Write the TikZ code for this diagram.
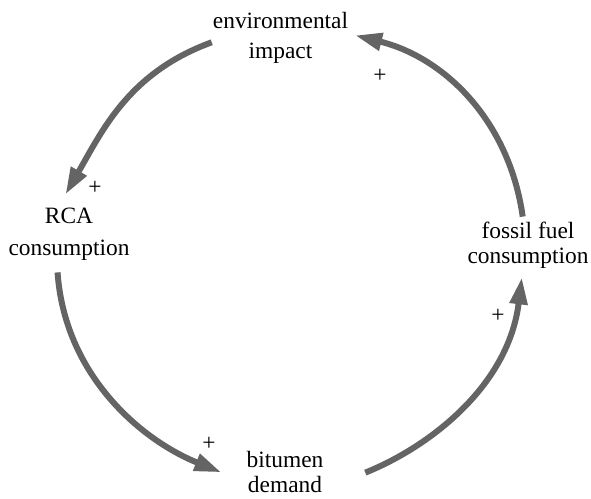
\documentclass[tikz,border=0pt]{standalone}
\usepackage{fontspec}
\setmainfont{Liberation Serif}
\usetikzlibrary{arrows.meta}
\definecolor{linkgray}{RGB}{100,100,100}
\tikzset{
  var/.style={align=center, inner sep=1pt, font=\fontsize{23.4}{25}\selectfont},
  link/.style={-{Triangle[length=27pt,width=17pt]}, line width=6pt, linkgray},
  pol/.style={inner sep=0pt, font=\fontsize{23.4}{25}\selectfont}
}
\begin{document}
\begin{tikzpicture}[x=1pt, y=1pt]
\useasboundingbox (0,0) rectangle (591,498);
% variables
\node[var] (env) at (280.5,460.5) {environmental\\[5pt]impact};
\node[var] (rca) at (69,264) {RCA\\[7pt]consumption};
\node[var] (bit) at (285,26.5) {bitumen\\demand};
\node[var] (fossil) at (528,253) {fossil fuel\\consumption};
% causal links
\draw[link, shorten >=14pt] (env.184) to[out=200, in=60] (rca.111);
\draw[link, shorten <=11pt, shorten >=26pt] (rca.246) to[out=274, in=158] (bit.195);
\draw[link, shorten <=44pt, shorten >=8pt] (bit.336) to[out=22, in=263] (fossil.258);
\draw[link, shorten <=4pt, shorten >=6pt] (fossil.101) to[out=98, in=346] (env.3);
% polarities
\node[pol] (p1) at (95,310) {+};
\node[pol] (p2) at (380,422) {+};
\node[pol] (p3) at (209,54) {+};
\node[pol] (p4) at (498,182) {+};
\end{tikzpicture}
\end{document}
